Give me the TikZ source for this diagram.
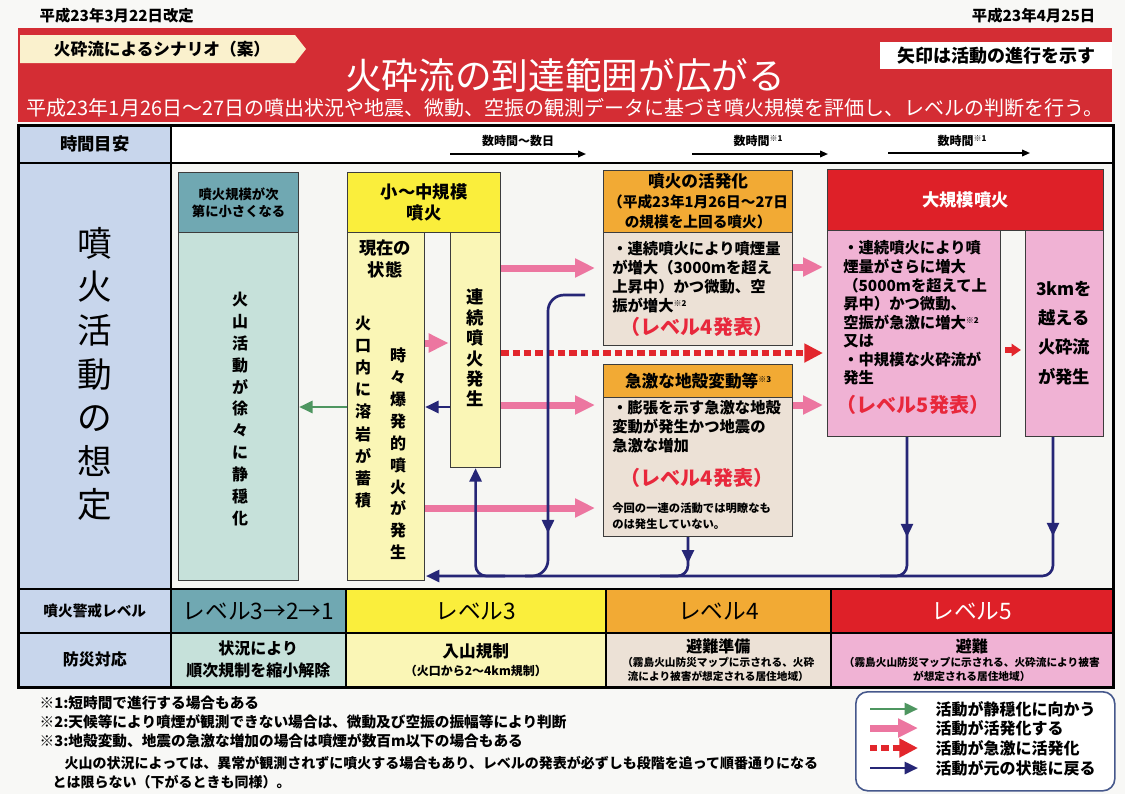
\documentclass[tikz,border=0pt]{standalone}
\usepackage{fontspec}
\setmainfont{Noto Sans CJK JP}
\usetikzlibrary{arrows.meta,decorations.markings}

\definecolor{bgpaper}{RGB}{248,248,246}
\definecolor{banner}{RGB}{212,45,52}
\definecolor{tabfill}{RGB}{250,241,205}
\definecolor{leftblue}{RGB}{200,214,236}
\definecolor{paper}{RGB}{246,246,243}
\definecolor{tealD}{RGB}{112,168,178}
\definecolor{tealL}{RGB}{198,225,218}
\definecolor{yellowD}{RGB}{250,238,60}
\definecolor{yellowL}{RGB}{250,246,182}
\definecolor{orangeD}{RGB}{242,170,52}
\definecolor{beige}{RGB}{236,225,214}
\definecolor{redD}{RGB}{222,32,40}
\definecolor{pinkL}{RGB}{240,178,212}
\definecolor{pinkA}{RGB}{236,118,160}
\definecolor{redA}{RGB}{226,38,44}
\definecolor{redT}{RGB}{232,40,60}
\definecolor{navyA}{RGB}{38,38,118}
\definecolor{greenA}{RGB}{78,150,96}
\definecolor{legB}{RGB}{70,88,140}
\definecolor{boxln}{RGB}{60,60,60}

\newcommand\noteref[1]{\raisebox{0.55ex}{\fontsize{6}{6}\selectfont ※#1}}
\newcommand\fs[2]{\fontsize{#1}{#2}\selectfont}

\begin{document}
\begin{tikzpicture}[x=0.75pt,y=-0.75pt]
\tikzstyle{cell}=[draw=black,line width=1.2pt,inner sep=0pt,anchor=north west,align=center]
\tikzstyle{box}=[draw=boxln,line width=0.9pt,inner sep=0pt,anchor=north west,align=center]
\tikzset{wh/.style 2 args={minimum width=#1*0.75pt,minimum height=#2*0.75pt}}
\tikzstyle{vtext}=[align=center,inner sep=0pt]
\tikzstyle{btext}=[align=left,inner sep=0pt,anchor=west,font=\bfseries\fs{11.5}{14.2}]
\tikzstyle{announce}=[inner sep=0pt,text=redT,font=\bfseries\fs{15}{17}]
\tikzstyle{pinkar}=[draw=pinkA,line width=5.25pt,-{Triangle[length=15pt,width=13.5pt]}]
\tikzstyle{reddash}=[draw=redA,line width=5pt,dash pattern=on 5.5pt off 3pt,-{Triangle[length=14pt,width=13.5pt]}]
\tikzstyle{navyln}=[draw=navyA,line width=2pt]
\tikzstyle{navyar}=[navyln,-{Triangle[length=10pt,width=9pt]}]
\tikzstyle{greenar}=[draw=greenA,line width=2pt,-{Triangle[length=10pt,width=9pt]}]
\tikzstyle{timear}=[draw=black,line width=1.2pt,-{Triangle[length=6pt,width=5pt]}]
\tikzset{midtip/.style={postaction={decorate},decoration={markings,mark=at position #1 with {\arrow[navyA]{Triangle[length=10pt,width=9pt]}}}}}

\useasboundingbox (0,0) rectangle (1125,794);
\fill[bgpaper] (0,0) rectangle (1125,794);

% header band
\node[anchor=west,font=\bfseries\fs{11.5}{13}] (dateL) at (35,16) {平成23年3月22日改定};
\node[anchor=east,font=\bfseries\fs{11.5}{13}] (dateR) at (1100,16) {平成23年4月25日};
\node[fill=banner,inner sep=0pt,anchor=north west,wh={1094}{94}] (banner) at (18,28) {};
\fill[tabfill] (20,35) -- (295,35) -- (306,49) -- (295,63) -- (20,63) -- cycle;
\node[font=\bfseries\fs{12.5}{14}] (tab) at (162,49) {火砕流によるシナリオ（案）};
\node[fill=white,inner sep=0pt,anchor=north west,wh={232}{27},font=\bfseries\fs{13.5}{15}] (note) at (880,42) {矢印は活動の進行を示す};
\node[text=white,font=\fs{27.5}{30}] (title) at (565,76) {火砕流の到達範囲が広がる};
\node[text=white,font=\fs{15}{17}] (subtitle) at (565,108) {平成23年1月26日～27日の噴出状況や地震、微動、空振の観測データに基づき噴火規模を評価し、レベルの判断を行う。};

% table
\node[cell,fill=leftblue,wh={152}{37},font=\bfseries\fs{13}{15}] (timeL) at (18,125) {時間目安};
\node[cell,fill=white,wh={942}{37}] (timeR) at (170,125) {};
\node[cell,fill=leftblue,wh={152}{426}] (mainL) at (18,162) {};
\node[cell,fill=paper,wh={942}{426}] (mainR) at (170,162) {};
\node[vtext,font=\fs{26}{32.7}] (assume) at (95,374) {噴\\火\\活\\動\\の\\想\\定};

\node[cell,fill=leftblue,wh={152}{44},font=\bfseries\fs{11}{13}] (lvlL) at (18,588) {噴火警戒レベル};
\node[cell,fill=tealD,wh={175}{44},font=\fs{17}{19}] (lvl1) at (170,588) {レベル3→2→1};
\node[cell,fill=yellowD,wh={260}{44},font=\fs{17}{19}] (lvl3) at (345,588) {レベル3};
\node[cell,fill=orangeD,wh={225}{44},font=\fs{17}{19}] (lvl4) at (605,588) {レベル4};
\node[cell,fill=redD,wh={282}{44},font=\fs{17}{19},text=white] (lvl5) at (830,588) {レベル5};

\node[cell,fill=leftblue,wh={152}{54},font=\bfseries\fs{12}{14}] (resL) at (18,632) {防災対応};
\node[cell,fill=tealL,wh={175}{54},font=\bfseries\fs{12}{16.5}] (res1) at (170,632) {状況により\\順次規制を縮小解除};
\node[cell,fill=yellowL,wh={260}{54},font=\bfseries\fs{9}{13.5}] (res3) at (345,632) {{\fs{12.5}{14}入山規制}\\（火口から2～4km規制）};
\node[cell,fill=beige,wh={225}{54},font=\bfseries\fs{8}{10.5}] (res4) at (605,632) {{\fs{12}{14}避難準備}\\（霧島火山防災マップに示される、火砕\\流により被害が想定される居住地域）};
\node[cell,fill=pinkL,wh={282}{54},font=\bfseries\fs{8}{10.5}] (res5) at (830,632) {{\fs{12}{14}避難}\\（霧島火山防災マップに示される、火砕流により被害\\が想定される居住地域）};
\draw[line width=1.6pt] (timeL.north west) rectangle (res5.south east);

% time scale
\node[font=\bfseries\fs{9}{10}] (t1) at (518,141) {数時間～数日};
\node[font=\bfseries\fs{9}{10}] (t2) at (758,141) {数時間\noteref{1}};
\node[font=\bfseries\fs{9}{10}] (t3) at (962,141) {数時間\noteref{1}};
\coordinate (t1a) at (450,154); \coordinate (t1b) at (586,154);
\coordinate (t2a) at (692,154); \coordinate (t2b) at (828,154);
\coordinate (t3a) at (888,153); \coordinate (t3b) at (1030,153);
\draw[timear] (t1a) -- (t1b);
\draw[timear] (t2a) -- (t2b);
\draw[timear] (t3a) -- (t3b);

% scenario boxes
\node[box,fill=tealD,wh={120}{60},font=\bfseries\fs{10}{13}] (calmHd) at (178,172) {噴火規模が次\\第に小さくなる};
\node[box,fill=tealL,wh={120}{348}] (calm) at (178,232) {};
\node[vtext,font=\bfseries\fs{12}{16.4}] (calmTxt) at (240,409) {火\\山\\活\\動\\が\\徐\\々\\に\\静\\穏\\化};

\node[box,fill=yellowD,wh={153}{60},font=\bfseries\fs{13}{16}] (smallHd) at (347,172) {小～中規模\\噴火};
\node[box,fill=yellowL,wh={77}{348}] (now) at (347,232) {};
\node[vtext,font=\bfseries\fs{13}{16.5}] (nowTxt) at (385,259) {現在の\\状態};
\node[vtext,font=\bfseries\fs{12}{16.6}] (lavaTxt) at (363,412) {火\\口\\内\\に\\溶\\岩\\が\\蓄\\積};
\node[vtext,font=\bfseries\fs{12}{16.4}] (burstTxt) at (398,454) {時\\々\\爆\\発\\的\\噴\\火\\が\\発\\生};
\node[box,fill=yellowL,wh={50}{235}] (cont) at (450,232) {};
\node[vtext,font=\bfseries\fs{13}{15.3}] (contTxt) at (475,348) {連\\続\\噴\\火\\発\\生};

\node[box,fill=orangeD,wh={189}{62},font=\bfseries\fs{11}{15}] (activeHd) at (603,170) {{\fs{12.5}{15}噴火の活発化}\\（平成23年1月26日～27日\\の規模を上回る噴火）};
\node[box,fill=beige,wh={189}{113}] (active) at (603,232) {};
\node[btext] (activeTxt) at (612,277) {・連続噴火により噴煙量\\が増大（3000mを超え\\上昇中）かつ微動、空\\振が増大\noteref{2}};
\node[announce] (activeLv) at (697,327) {（レベル4発表）};

\node[box,fill=orangeD,wh={189}{33},font=\bfseries\fs{12.5}{14}] (crustHd) at (603,364) {急激な地殻変動等\noteref{3}};
\node[box,fill=beige,wh={189}{139}] (crust) at (603,397) {};
\node[btext] (crustTxt) at (612,427) {・膨張を示す急激な地殻\\変動が発生かつ地震の\\急激な増加};
\node[announce] (crustLv) at (697,478) {（レベル4発表）};
\node[btext,font=\bfseries\fs{8.5}{12.5}] (crustNote) at (612,516) {今回の一連の活動では明瞭なも\\のは発生していない。};

\node[box,fill=redD,wh={276}{61},text=white,font=\bfseries\fs{13}{15}] (largeHd) at (827,169) {大規模噴火};
\node[box,fill=pinkL,wh={173}{206}] (large) at (827,230) {};
\node[btext,font=\bfseries\fs{11.5}{13.9}] (largeTxt) at (843,313) {・連続噴火により噴\\煙量がさらに増大\\（5000mを超えて上\\昇中）かつ微動、\\空振が急激に増大\noteref{2}\\又は\\・中規模な火砕流が\\発生};
\node[announce] (largeLv) at (913,405) {（レベル5発表）};
\node[box,fill=pinkL,wh={78}{206}] (flow) at (1025,230) {};
\node[vtext,font=\bfseries\fs{13}{22}] (flowTxt) at (1064,333) {3kmを\\越える\\火砕流\\が発生};

% escalation arrows
\draw[pinkar,shorten >=6pt] (cont.east |- 0,268) -- (active.west |- 0,268);
\draw[pinkar,shorten >=1pt] (now.east |- 0,343) -- (cont.west |- 0,343);
\draw[pinkar,shorten >=6pt] (cont.east |- 0,405) -- (crust.west |- 0,405);
\draw[pinkar,shorten >=6pt] (now.east |- 0,508) -- (crust.west |- 0,508);
\draw[pinkar,shorten >=3pt] (active.east |- 0,267) -- (large.west |- 0,267);
\draw[pinkar,shorten >=3pt] (crust.east |- 0,405) -- (large.west |- 0,405);
\draw[reddash,shorten >=3pt] (cont.east |- 0,353) -- (large.west |- 0,353);
\draw[draw=redA,line width=4pt,shorten <=3pt,shorten >=3pt,-{Triangle[length=7pt,width=9pt]}] (large.east |- 0,350) -- (flow.west |- 0,350);
\draw[greenar] (now.west |- 0,407) -- (calm.east |- 0,407);
\draw[navyar] (cont.west |- 0,407) -- (now.east |- 0,407);

% return arrows
\coordinate (ret) at (426,576);
\coordinate (dipStart) at (585,295);
\draw[navyar,rounded corners=8pt,midtip=0.13] (flow.south -| 1053,0) |- (ret);
\draw[navyln,rounded corners=8pt,midtip=0.62] (large.south -| 907,0) |- (880,576);
\draw[navyln,rounded corners=8pt,midtip=0.42] (crust.south -| 688,0) |- (660,576);
\draw[navyln,rounded corners=12pt,midtip=0.82] (dipStart) -| (548,576) -- (525,576);
\draw[navyar,rounded corners=8pt] (505,576) -| (cont.south);

% notes
\node[anchor=west,font=\bfseries\fs{11}{13}] (fn1) at (35,703) {※1:短時間で進行する場合もある};
\node[anchor=west,font=\bfseries\fs{11}{13}] (fn2) at (35,722) {※2:天候等により噴煙が観測できない場合は、微動及び空振の振幅等により判断};
\node[anchor=west,font=\bfseries\fs{11}{13}] (fn3) at (35,741) {※3:地殻変動、地震の急激な増加の場合は噴煙が数百m以下の場合もある};
\node[anchor=west,font=\bfseries\fs{10.5}{13}] (fn4) at (60,763) {火山の状況によっては、異常が観測されずに噴火する場合もあり、レベルの発表が必ずしも段階を追って順番通りになる};
\node[anchor=west,font=\bfseries\fs{10.5}{13}] (fn5) at (48,782) {とは限らない（下がるときも同様）。};

% legend
\node[draw=legB,fill=white,rounded corners=9pt,line width=1.2pt,anchor=north west,wh={259}{99}] (legend) at (855,691) {};
\foreach \y/\sty/\txt in {709/greenar/活動が静穏化に向かう,728/pinkar/活動が活発化する,748/reddash/活動が急激に活発化,768/navyar/活動が元の状態に戻る}{
  \draw[\sty] (870,\y) -- (918,\y);
  \node[anchor=west,font=\bfseries\fs{12}{14}] (leg\y) at (931,\y) {\txt};
}
\end{tikzpicture}
\end{document}
